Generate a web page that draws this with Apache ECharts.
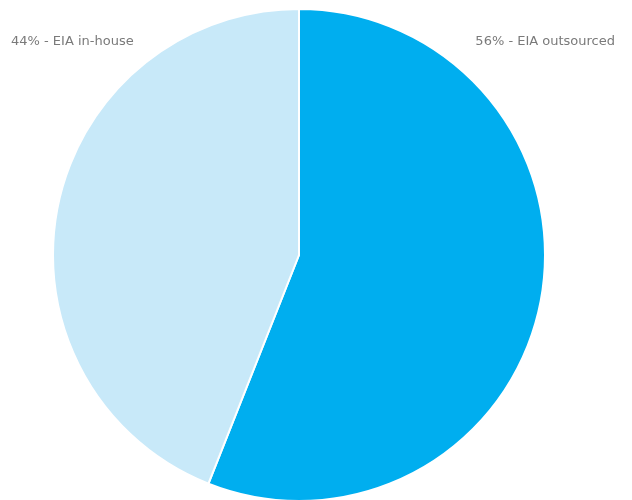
<!DOCTYPE html>
<html>
<head>
<meta charset="utf-8">
<script src="https://cdn.jsdelivr.net/npm/echarts@6/dist/echarts.min.js"></script>
<style>
  html, body { margin: 0; padding: 0; background: #ffffff; }
  #chart { width: 632px; height: 500px; }
</style>
</head>
<body>
<div id="chart"></div>
<script>
// EIA delivery split
const categories = ['EIA outsourced', 'EIA in-house'];
const shares = [56, 44];
const colors = ['#00aeef', '#c8e9f9'];

const chart = echarts.init(document.getElementById('chart'), null, { renderer: 'canvas' });

const labelStyle = {
  fill: '#7a7a7a',
  fontFamily: '"DejaVu Sans", sans-serif',
  fontSize: 13
};

chart.setOption({
  animation: false,
  series: [{
    type: 'pie',
    center: [299, 255],
    radius: [0, 246],
    startAngle: 90,
    clockwise: true,
    label: { show: false },
    labelLine: { show: false },
    emphasis: { disabled: true },
    itemStyle: { borderColor: '#ffffff', borderWidth: 2 },
    data: categories.map((name, i) => ({
      name: name,
      value: shares[i],
      itemStyle: { color: colors[i] }
    }))
  }],
  graphic: [
    {
      type: 'text', left: 11, top: 35,
      style: Object.assign({ text: shares[1] + '% - ' + categories[1] }, labelStyle)
    },
    {
      type: 'text', right: 17, top: 35,
      style: Object.assign({ text: shares[0] + '% - ' + categories[0] }, labelStyle)
    }
  ]
});
</script>
</body>
</html>
